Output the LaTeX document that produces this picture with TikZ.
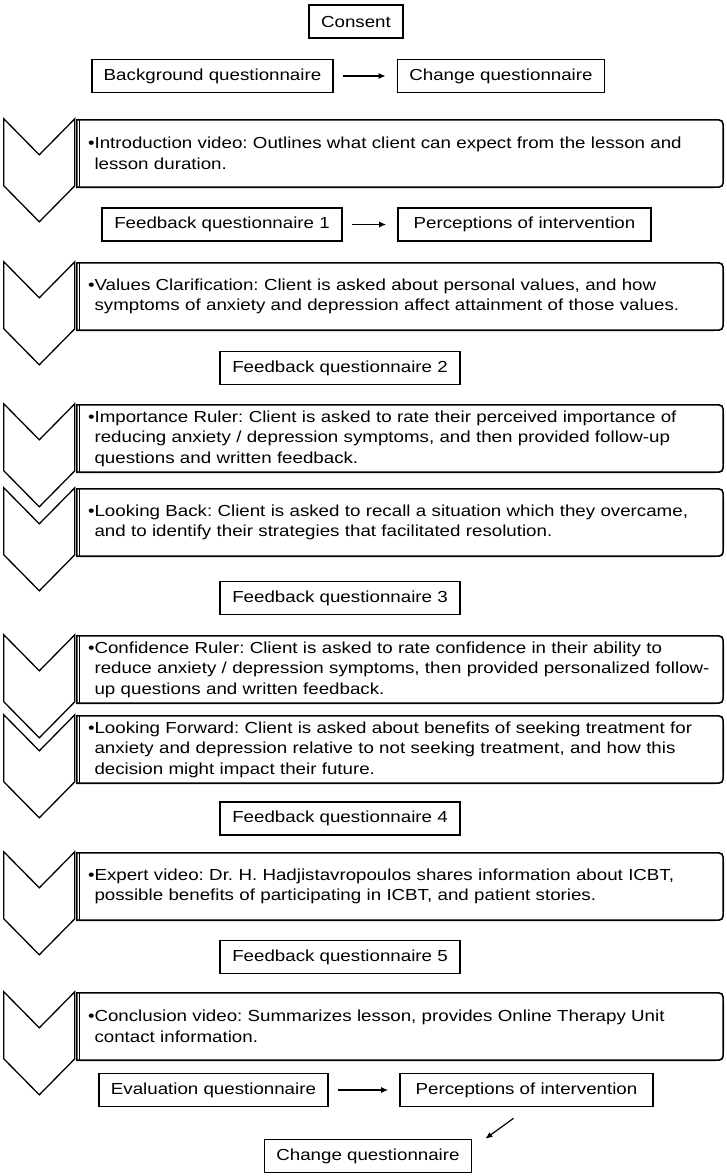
\documentclass[tikz,border=0pt]{standalone}
\usepackage{fontspec}
\setmainfont{Liberation Sans}[FakeStretch=1.17]
\usetikzlibrary{arrows.meta}
\frenchspacing

% chevron to the left of a lesson box
\newcommand{\chevron}[1]{%
 \draw[chev] ([xshift=-73pt,yshift=1pt]#1.north west) -- ++(35.5,36) -- ++(35.5,-36)
   -- ++(0,67) -- ++(-35.5,36) -- ++(-35.5,-36) -- cycle;}
% square left side, rounded right side
\newcommand{\lessonedge}[1]{%
 \draw[edge] (#1.south west) -- (#1.north west) -- ([xshift=-10pt]#1.north east)
   .. controls (#1.north east) .. ([yshift=-10pt]#1.north east)
   -- ([yshift=10pt]#1.south east)
   .. controls (#1.south east) .. ([xshift=-10pt]#1.south east) -- cycle;
 \draw[line width=0.8pt] ([xshift=3pt]#1.north west) -- ([xshift=3pt]#1.south west);}
\newcommand{\hang}{\phantom{\textbullet}}

\begin{document}
\begin{tikzpicture}[x=1pt,y=-1pt,
  font=\fontsize{16}{20.5}\selectfont,
  qbox/.style={draw,line width=1.6pt,minimum height=33pt,inner xsep=12pt},
  lesson/.style={text width=624pt,inner xsep=11pt,inner ysep=0pt,minimum height=67pt,align=left},
  edge/.style={line width=1.6pt},
  chev/.style={line width=1.3pt,line join=miter},
  tip/.style={-{Latex[length=7pt,width=6pt]},line width=1.2pt},
  flow/.style={tip,shorten <=9pt,shorten >=11pt}]
 \useasboundingbox (0,0) rectangle (727,1176);

 \node[qbox] (consent) at (356,21.5) {Consent};
 \node[qbox] (bq) at (212.5,76) {Background questionnaire};
 \node[qbox] (cq) at (501,76) {Change questionnaire};
 \draw[flow] (bq) -- (cq);

 \node[lesson] (intro) at (400,153.5) {\mbox{\textbullet Introduction video: Outlines what client can expect from the lesson and}\\
  \mbox{\hang lesson duration.}};
 \node[qbox] (fq1) at (222,224.5) {Feedback questionnaire 1};
 \node[qbox,minimum width=253pt] (pi1) at (524.5,224.5) {Perceptions of intervention};
 \draw[flow] (fq1) -- (pi1);

 \node[lesson] (values) at (400,296.5) {\mbox{\textbullet Values Clarification: Client is asked about personal values, and how}\\
  \mbox{\hang symptoms of anxiety and depression affect attainment of those values.}};
 \node[qbox] (fq2) at (340,368) {Feedback questionnaire 2};

 \node[lesson] (imp) at (400,438.5) {\mbox{\textbullet Importance Ruler: Client is asked to rate their perceived importance of}\\
  \mbox{\hang reducing anxiety / depression symptoms, and then provided follow-up}\\
  \mbox{\hang questions and written feedback.}};
 \node[lesson] (back) at (400,522.5) {\mbox{\textbullet Looking Back: Client is asked to recall a situation which they overcame,}\\
  \mbox{\hang and to identify their strategies that facilitated resolution.}};
 \node[qbox] (fq3) at (340,598) {Feedback questionnaire 3};

 \node[lesson] (conf) at (400,669.5) {\mbox{\textbullet Confidence Ruler: Client is asked to rate confidence in their ability to}\\
  \mbox{\hang reduce anxiety / depression symptoms, then provided personalized follow-}\\
  \mbox{\hang up questions and written feedback.}};
 \node[lesson] (fwd) at (400,749.5) {\mbox{\textbullet Looking Forward: Client is asked about benefits of seeking treatment for}\\
  \mbox{\hang anxiety and depression relative to not seeking treatment, and how this}\\
  \mbox{\hang decision might impact their future.}};
 \node[qbox] (fq4) at (340,818.5) {Feedback questionnaire 4};

 \node[lesson] (expert) at (400,886.5) {\mbox{\textbullet Expert video: Dr. H. Hadjistavropoulos shares information about ICBT,}\\
  \mbox{\hang possible benefits of participating in ICBT, and patient stories.}};
 \node[qbox] (fq5) at (340,957) {Feedback questionnaire 5};

 \node[lesson] (concl) at (400,1026.5) {\mbox{\textbullet Conclusion video: Summarizes lesson, provides Online Therapy Unit}\\
  \mbox{\hang contact information.}};
 \node[qbox] (eq) at (213.5,1090) {Evaluation questionnaire};
 \node[qbox,minimum width=253pt] (pi2) at (526.5,1090) {Perceptions of intervention};
 \draw[flow] (eq) -- (pi2);
 \node[qbox] (cq2) at (368,1156) {Change questionnaire};
 \draw[tip] ([shift={(-13pt,-11pt)}]pi2.south) -- ([shift={(13pt,0pt)}]cq2.north east);

 \foreach \l in {intro,values,imp,back,conf,fwd,expert,concl} {
  \lessonedge{\l}
  \chevron{\l}
 }
\end{tikzpicture}
\end{document}
